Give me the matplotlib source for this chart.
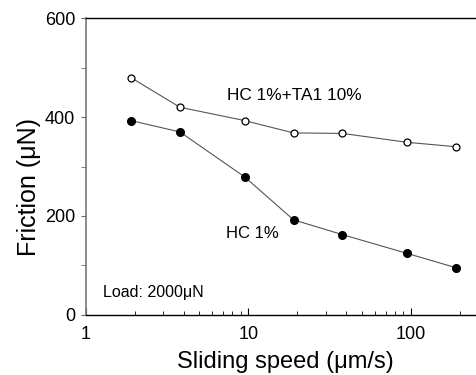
import numpy as np
import matplotlib.pyplot as plt
from matplotlib.ticker import FixedLocator, NullFormatter

plt.rcParams['font.family'] = ['Liberation Sans', 'DejaVu Sans']

# data
speed = [1.9, 3.8, 9.5, 19, 38, 95, 190]
friction_hc_ta = [480, 420, 393, 368, 367, 349, 340]
friction_hc = [393, 370, 279, 192, 162, 124, 95]

fig = plt.figure(figsize=(4.76, 3.75), dpi=100)
ax = fig.add_axes([0.180, 0.161, 0.82, 0.790])

ax.plot(speed, friction_hc_ta, color='#555555', lw=0.8,
        marker='o', ms=5, mfc='white', mec='black', mew=0.9)
ax.plot(speed, friction_hc, color='#555555', lw=0.8,
        marker='o', ms=5.5, mfc='black', mec='black')

ax.set_xscale('log')
ax.set_xlim(1, 252)
ax.set_ylim(0, 600)
ax.set_xticks([1, 10, 100])
ax.set_xticklabels(['1', '10', '100'])
ax.xaxis.set_minor_locator(FixedLocator([2, 3, 4, 5, 6, 7, 8, 9,
                                         20, 30, 40, 50, 60, 70, 80, 90, 200]))
ax.xaxis.set_minor_formatter(NullFormatter())
ax.set_yticks([0, 200, 400, 600])
ax.set_yticks([100, 300, 500], minor=True)

ax.tick_params(axis='x', which='both', direction='in', labelsize=13, pad=8)
ax.tick_params(axis='x', which='major', length=5)
ax.tick_params(axis='x', which='minor', length=3)
ax.tick_params(axis='y', which='both', direction='out', labelsize=13,
               length=3.5, pad=4, color='#666666')

ax.spines['right'].set_visible(False)
for s in ['bottom', 'top']:
    ax.spines[s].set_linewidth(1.0)
ax.spines['left'].set_linewidth(1.2)
ax.spines['left'].set_color('#777777')

ax.set_xlabel('Sliding speed (\u03bcm/s)', fontsize=17, labelpad=6)
ax.set_ylabel('Friction (\u03bcN)', fontsize=18, labelpad=3)
ax.xaxis.label.set_x(0.512)
ax.yaxis.label.set_y(0.43)

ax.text(19.3, 444, 'HC 1%+TA1 10%', fontsize=12.4, ha='center', va='center')
ax.text(10.6, 164, 'HC 1%', fontsize=12, ha='center', va='center')
ax.text(1.28, 44, 'Load: 2000\u03bcN', fontsize=11.5, ha='left', va='center')

fig.savefig('out.png', dpi=100)
